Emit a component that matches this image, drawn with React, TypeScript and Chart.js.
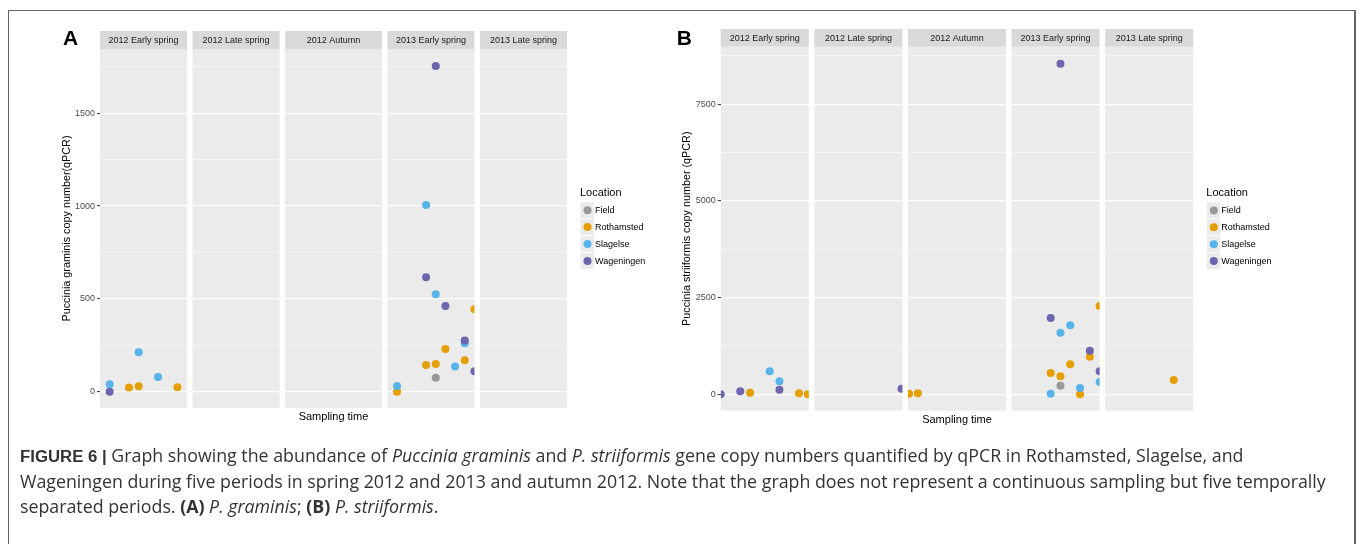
import React, { useEffect, useRef } from 'react';
import { Chart, registerables } from 'chart.js';

Chart.register(...registerables);

const FONT = '"Liberation Sans", Arial, Helvetica, sans-serif';
const CAPTION_FONT = '"Open Sans", "Liberation Sans", Arial, sans-serif';

// ---------- categories ----------
const FACETS = ['2012 Early spring', '2012 Late spring', '2012 Autumn', '2013 Early spring', '2013 Late spring'];
const FACET_SPAN = [9, 9, 10, 9, 9];
const FACET_GAP = 0.57;
const LOCATIONS = ['Field', 'Rothamsted', 'Slagelse', 'Wageningen'];
const LOCATION_COLORS = ['#999999', '#E69F00', '#56B4E9', '#6D65AE'];
const LOCATION_ORDER = [3, 2, 1, 0];

// ---------- series: [facet index, sampling day in facet, copy number] ----------
// Panel A: Puccinia graminis
const graminisField = [[3, 5, 75]];
const graminisRothamsted = [[0, 3, 22], [0, 4, 29], [0, 8, 24], [3, 1, 0], [3, 4, 144], [3, 5, 149], [3, 6, 230], [3, 8, 169], [3, 9, 444]];
const graminisSlagelse = [[0, 1, 40], [0, 4, 212], [0, 6, 79], [3, 1, 31], [3, 4, 1006], [3, 5, 525], [3, 7, 135], [3, 8, 261]];
const graminisWageningen = [[0, 1, 0], [3, 4, 616], [3, 5, 1755], [3, 6, 462], [3, 8, 275], [3, 9, 110]];

// Panel B: Puccinia striiformis
const striiformisField = [[3, 5, 222]];
const striiformisRothamsted = [[0, 3, 41], [0, 8, 26], [0, 8.9, 0], [2, 0.1, 15], [2, 1, 26], [3, 4, 551], [3, 5, 465], [3, 6, 776], [3, 7, 0], [3, 8, 972], [3, 9, 2283], [4, 7, 370]];
const striiformisSlagelse = [[0, 5, 594], [0, 6, 336], [3, 4, 16], [3, 5, 1593], [3, 6, 1784], [3, 7, 163], [3, 9, 318]];
const striiformisWageningen = [[0, 0, 0], [0, 2, 78], [0, 6, 119], [1, 8.9, 145], [3, 4, 1973], [3, 5, 8547], [3, 8, 1127], [3, 9, 595]];

// ---------- axis ranges / ticks ----------
const graminisRange = [-88, 1846];
const graminisTicks = [0, 250, 500, 750, 1000, 1250, 1500, 1750];
const graminisLabelled = [0, 500, 1000, 1500];
const striiformisRange = [-424, 8987];
const striiformisTicks = [0, 1250, 2500, 3750, 5000, 6250, 7500, 8750];
const striiformisLabelled = [0, 2500, 5000, 7500];

const FACET_OFFSETS: number[] = FACET_SPAN.reduce((acc: number[], _w, i) => {
  acc.push(i === 0 ? 0 : acc[i - 1] + FACET_SPAN[i - 1] + FACET_GAP);
  return acc;
}, []);
const X_MAX = FACET_OFFSETS[FACET_OFFSETS.length - 1] + FACET_SPAN[FACET_SPAN.length - 1];

const toPoints = (rows: number[][]) => rows.map(([f, day, v]) => ({ x: FACET_OFFSETS[f] + day, y: v }));

const facetPlugin = {
  id: 'facets',
  beforeDraw(chart: any, _args: any, opts: any) {
    const { ctx, chartArea } = chart;
    const x = chart.scales.x;
    ctx.save();
    FACETS.forEach((name, i) => {
      const l = x.getPixelForValue(FACET_OFFSETS[i]);
      const r = x.getPixelForValue(FACET_OFFSETS[i] + FACET_SPAN[i]);
      ctx.fillStyle = '#ebebeb';
      ctx.fillRect(l, chartArea.top, r - l, chartArea.bottom - chartArea.top);
      ctx.fillStyle = '#d9d9d9';
      ctx.fillRect(l, chartArea.top - opts.stripHeight, r - l, opts.stripHeight);
      ctx.fillStyle = '#1a1a1a';
      ctx.font = `9px ${FONT}`;
      ctx.textAlign = 'center';
      ctx.textBaseline = 'middle';
      ctx.fillText(name, (l + r) / 2, chartArea.top - opts.stripHeight / 2 + 0.5);
    });
    ctx.restore();
  },
  beforeDatasetsDraw(chart: any) {
    const { ctx, chartArea } = chart;
    const x = chart.scales.x;
    ctx.save();
    ctx.beginPath();
    FACETS.forEach((_n, i) => {
      const l = x.getPixelForValue(FACET_OFFSETS[i]);
      const r = x.getPixelForValue(FACET_OFFSETS[i] + FACET_SPAN[i]);
      ctx.rect(l, chartArea.top, r - l, chartArea.bottom - chartArea.top);
    });
    ctx.clip();
  },
  afterDatasetsDraw(chart: any) {
    chart.ctx.restore();
  },
  afterDraw(chart: any, _args: any, opts: any) {
    const { ctx, chartArea } = chart;
    ctx.save();
    // panel letter
    ctx.fillStyle = '#000';
    ctx.font = `bold 21px ${FONT}`;
    ctx.textAlign = 'left';
    ctx.textBaseline = 'alphabetic';
    ctx.fillText(opts.label, opts.labelX, opts.labelY);
    // legend
    const cx = chartArea.right + 13;
    const cy = (chartArea.top + chartArea.bottom) / 2;
    ctx.font = `11px ${FONT}`;
    ctx.textBaseline = 'middle';
    ctx.fillText('Location', cx, cy - 35.3);
    LOCATIONS.forEach((name, i) => {
      const y = cy - 18.3 + i * 16.9;
      ctx.fillStyle = '#ebebeb';
      ctx.fillRect(cx + 0.5, y - 8, 13.5, 16);
      ctx.fillStyle = LOCATION_COLORS[i];
      ctx.beginPath();
      ctx.arc(cx + 7.5, y, 4, 0, Math.PI * 2);
      ctx.fill();
      ctx.fillStyle = '#000';
      ctx.font = `9px ${FONT}`;
      ctx.fillText(name, cx + 15, y + 0.5);
    });
    ctx.restore();
  },
};

type Spec = {
  label: string;
  yTitle: string;
  range: number[];
  ticks: number[];
  labelled: number[];
  series: number[][][];
  left: number;
  width: number;
  height: number;
  yAxisWidth: number;
  yTitlePad: number;
  padTop: number;
  padRight: number;
  xAxisHeight: number;
  xTitlePad: number;
  stripHeight: number;
  labelX: number;
  labelY: number;
};

const SPEC_A: Spec = {
  label: 'A',
  yTitle: 'Puccinia graminis copy number(qPCR)',
  range: graminisRange,
  ticks: graminisTicks,
  labelled: graminisLabelled,
  series: [graminisField, graminisRothamsted, graminisSlagelse, graminisWageningen],
  left: 10,
  width: 660,
  height: 430,
  yAxisWidth: 90,
  yTitlePad: 50.7,
  padTop: 49,
  padRight: 103,
  xAxisHeight: 22,
  xTitlePad: 6.4,
  stripHeight: 18,
  labelX: 53,
  labelY: 45,
};

const SPEC_B: Spec = {
  label: 'B',
  yTitle: 'Puccinia striiformis copy number (qPCR)',
  range: striiformisRange,
  ticks: striiformisTicks,
  labelled: striiformisLabelled,
  series: [striiformisField, striiformisRothamsted, striiformisSlagelse, striiformisWageningen],
  left: 670,
  width: 680,
  height: 430,
  yAxisWidth: 50.7,
  yTitlePad: 11,
  padTop: 46.7,
  padRight: 156.7,
  xAxisHeight: 19.3,
  xTitlePad: 3.4,
  stripHeight: 17.7,
  labelX: 6.7,
  labelY: 45,
};

function buildConfig(spec: Spec): any {
  const isMajor = (v: number) => spec.labelled.includes(v);
  return {
    type: 'scatter',
    data: {
      datasets: LOCATIONS.map((name, i) => ({
        label: name,
        data: toPoints(spec.series[i]),
        backgroundColor: LOCATION_COLORS[i],
        borderWidth: 0,
        pointRadius: 4,
        pointHoverRadius: 4,
        order: LOCATION_ORDER[i],
      })),
    },
    plugins: [facetPlugin],
    options: {
      animation: false,
      responsive: false,
      devicePixelRatio: 1,
      events: [],
      layout: { padding: { top: spec.padTop, right: spec.padRight, left: 0, bottom: 0 } },
      plugins: {
        legend: { display: false },
        tooltip: { enabled: false },
        facets: { stripHeight: spec.stripHeight, label: spec.label, labelX: spec.labelX, labelY: spec.labelY },
      },
      scales: {
        x: {
          type: 'linear',
          min: 0,
          max: X_MAX,
          grid: { display: false, drawTicks: false },
          border: { display: false },
          ticks: { display: false },
          title: {
            display: true,
            text: 'Sampling time',
            color: '#000',
            font: { family: FONT, size: 11 },
            padding: { top: 0, bottom: spec.xTitlePad },
          },
          afterFit: (scale: any) => {
            scale.height = spec.xAxisHeight;
          },
        },
        y: {
          type: 'linear',
          min: spec.range[0],
          max: spec.range[1],
          border: { display: false },
          grid: {
            drawTicks: true,
            tickLength: 3,
            color: (c: any) => (c.tick && isMajor(c.tick.value) ? '#ffffff' : 'rgba(255,255,255,0.75)'),
            lineWidth: (c: any) => (c.tick && isMajor(c.tick.value) ? 1.2 : 0.6),
            tickColor: (c: any) => (c.tick && isMajor(c.tick.value) ? '#333333' : 'rgba(0,0,0,0)'),
            tickWidth: 1,
          },
          afterBuildTicks: (scale: any) => {
            scale.ticks = spec.ticks.map((v) => ({ value: v }));
          },
          ticks: {
            autoSkip: false,
            padding: 2,
            color: '#4d4d4d',
            font: { family: FONT, size: 9 },
            callback: (v: number) => (isMajor(v) ? String(v) : ''),
          },
          title: {
            display: true,
            text: spec.yTitle,
            color: '#000',
            font: { family: FONT, size: 10.8 },
            padding: { top: spec.yTitlePad, bottom: 0 },
          },
          afterFit: (scale: any) => {
            scale.width = spec.yAxisWidth;
          },
        },
      },
    },
  };
}

function Panel({ spec }: { spec: Spec }) {
  const ref = useRef<HTMLCanvasElement | null>(null);
  useEffect(() => {
    if (!ref.current) return;
    const chart = new Chart(ref.current, buildConfig(spec));
    return () => chart.destroy();
  }, [spec]);
  return (
    <canvas
      ref={ref}
      width={spec.width}
      height={spec.height}
      style={{ position: 'absolute', left: spec.left, top: 0, width: spec.width, height: spec.height }}
    />
  );
}

export default function App() {
  return (
    <div
      style={{
        position: 'absolute',
        left: 0,
        top: 0,
        width: 1360,
        height: 544,
        overflow: 'hidden',
        background: '#fff',
        fontFamily: FONT,
      }}
    >
      <Panel spec={SPEC_A} />
      <Panel spec={SPEC_B} />
      <div
        style={{
          position: 'absolute',
          left: 8,
          top: 10,
          width: 1348,
          height: 534,
          boxSizing: 'border-box',
          borderTop: '1px solid #666',
          borderLeft: '1px solid #666',
          borderRight: '2px solid #666',
          pointerEvents: 'none',
        }}
      />
      <div
        style={{
          position: 'absolute',
          left: 20,
          top: 443,
          fontSize: 17.8,
          lineHeight: '25px',
          color: '#333',
          whiteSpace: 'nowrap',
          fontFamily: CAPTION_FONT,
        }}
      >
        <div>
          <b style={{ fontFamily: FONT, fontSize: 16.8 }}>FIGURE 6 |</b> Graph showing the abundance of{' '}
          <i>Puccinia graminis</i> and <i>P. striiformis</i> gene copy numbers quantified by qPCR in Rothamsted,
          Slagelse, and
        </div>
        <div>
          Wageningen during five periods in spring 2012 and 2013 and autumn 2012. Note that the graph does not represent
          a continuous sampling but five temporally
        </div>
        <div>
          separated periods. <b>(A)</b> <i>P. graminis</i>; <b>(B)</b> <i>P. striiformis</i>.
        </div>
      </div>
    </div>
  );
}
